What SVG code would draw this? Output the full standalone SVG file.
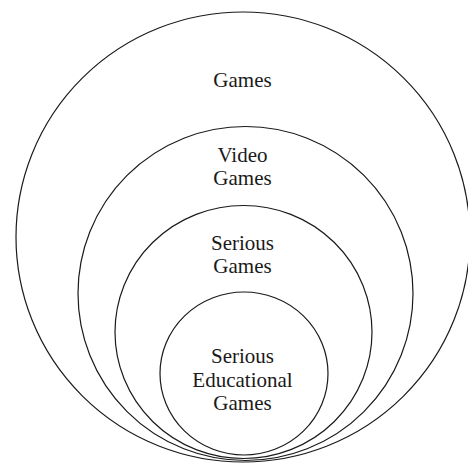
<svg xmlns="http://www.w3.org/2000/svg" width="468" height="465" viewBox="0 0 468 465">
<style>
.c{fill:none;stroke:#1a1a1a;stroke-width:1.2}
text{font-family:'Liberation Serif','DejaVu Serif',serif;font-size:21px;fill:#1a1a1a;text-anchor:middle}
</style>
<rect width="468" height="465" fill="#fff"/>
<g id="games">
<ellipse class="c" cx="243" cy="237" rx="227" ry="225"/>
<text x="242.5" y="87" font-family="Liberation Serif, serif">Games</text>
</g>
<g id="video-games">
<ellipse class="c" cx="245.5" cy="293.5" rx="167.5" ry="167"/>
<text x="242.5" y="162" font-family="Liberation Serif, serif">Video</text>
<text x="242.5" y="185" font-family="Liberation Serif, serif">Games</text>
</g>
<g id="serious-games">
<ellipse class="c" cx="243.5" cy="332" rx="128.5" ry="126.5"/>
<text x="242.5" y="250" font-family="Liberation Serif, serif">Serious</text>
<text x="242.5" y="273" font-family="Liberation Serif, serif">Games</text>
</g>
<g id="serious-educational-games">
<ellipse class="c" cx="244" cy="373.5" rx="84" ry="81.5"/>
<text x="242.5" y="363" font-family="Liberation Serif, serif">Serious</text>
<text x="242.5" y="386.5" font-family="Liberation Serif, serif">Educational</text>
<text x="242.5" y="409.5" font-family="Liberation Serif, serif">Games</text>
</g>
<g id="connectors"/>
</svg>
